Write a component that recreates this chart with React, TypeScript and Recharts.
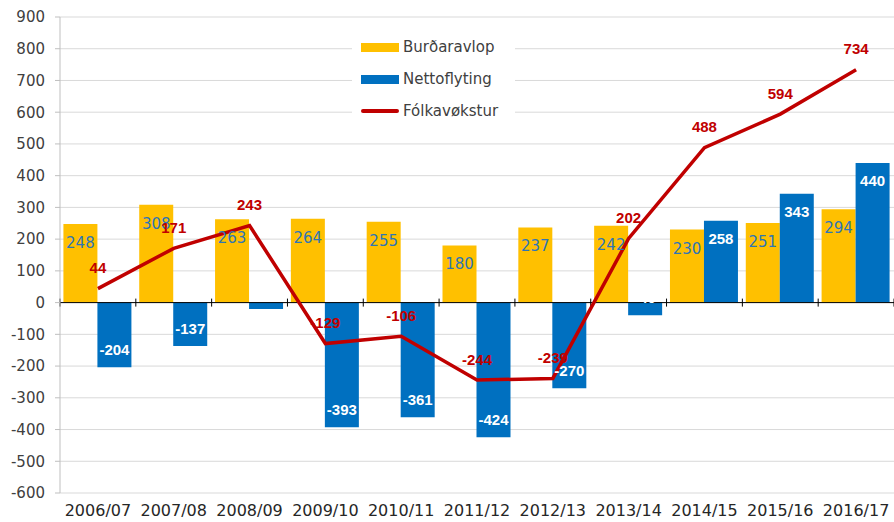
import React from 'react';
import { ComposedChart, Bar, Line, XAxis, YAxis, CartesianGrid, ReferenceLine, LabelList, Legend } from 'recharts';

const categories = ['2006/07', '2007/08', '2008/09', '2009/10', '2010/11', '2011/12', '2012/13', '2013/14', '2014/15', '2015/16', '2016/17'];
const burdaravlop = [248, 308, 263, 264, 255, 180, 237, 242, 230, 251, 294];
const nettoflyting = [-204, -137, -20, -393, -361, -424, -270, -40, 258, 343, 440];
const folkavokstur = [44, 171, 243, -129, -106, -244, -239, 202, 488, 594, 734];
const yTicks = [-600, -500, -400, -300, -200, -100, 0, 100, 200, 300, 400, 500, 600, 700, 800, 900];

const data = categories.map((c, i) => ({
  cat: c,
  burd: burdaravlop[i],
  netto: nettoflyting[i],
  folk: folkavokstur[i],
}));

const YELLOW = '#ffc000';
const BLUE = '#0070c0';
const RED = '#c00000';

const YellowLabel = (props: any) => {
  const { x, y, width, height, value } = props;
  const top = Math.min(y, y + height);
  return (
    <text x={x + width / 2} y={top + 19} textAnchor="middle" dominantBaseline="central"
      fontFamily="DejaVu Sans" fontSize={15} fill="#2e75b6">{value}</text>
  );
};

const BlueLabel = (props: any) => {
  const { x, y, width, height, value } = props;
  const top = Math.min(y, y + height);
  const bottom = Math.max(y, y + height);
  const cy = value >= 0 ? top + 18 : bottom - 18;
  return (
    <text x={x + width / 2} y={cy} textAnchor="middle" dominantBaseline="central"
      fontFamily="Liberation Sans" fontWeight="bold" fontSize={15} fill="#ffffff">{value}</text>
  );
};

const RedLabel = (props: any) => {
  const { x, y, value } = props;
  return (
    <text x={x} y={y - 21} textAnchor="middle" dominantBaseline="central"
      fontFamily="Liberation Sans" fontWeight="bold" fontSize={15} fill={RED}>{value}</text>
  );
};

const ZeroAxis = (props: any) => {
  const { x1, y1, x2 } = props;
  const n = categories.length;
  const step = (x2 - x1) / n;
  const ticks = [];
  for (let i = 0; i <= n; i++) {
    const tx = x1 + i * step;
    ticks.push(<line key={i} x1={tx} x2={tx} y1={y1 - 4} y2={y1 + 4} stroke="#000" strokeWidth={1} />);
  }
  return (
    <g>
      <line x1={x1} x2={x2} y1={y1} y2={y1} stroke="#000" strokeWidth={1} />
      {ticks}
    </g>
  );
};

const legendItems = [
  { name: 'Burðaravlop', color: YELLOW, type: 'rect' },
  { name: 'Nettoflyting', color: BLUE, type: 'rect' },
  { name: 'Fólkavøkstur', color: RED, type: 'line' },
];

const LegendContent = () => (
  <div style={{ background: '#fff', width: 163, height: 96, fontFamily: 'DejaVu Sans', fontSize: 15, color: '#404040' }}>
    {legendItems.map((it) => (
      <div key={it.name} style={{ height: 32, display: 'flex', alignItems: 'center' }}>
        <div style={{ width: 9 }} />
        {it.type === 'rect' ? (
          <div style={{ width: 38, height: 9, background: it.color }} />
        ) : (
          <div style={{ width: 38, height: 4, background: it.color, borderRadius: 2 }} />
        )}
        <div style={{ width: 4 }} />
        <span style={{ whiteSpace: 'nowrap' }}>{it.name}</span>
      </div>
    ))}
  </div>
);

export default function App() {
  return (
    <div style={{ position: 'absolute', left: 0, top: 0, width: 894, height: 522, background: '#fff' }}>
      <ComposedChart width={894} height={522} data={data}
        margin={{ top: 17, right: 0, bottom: 0, left: 0 }}
        barCategoryGap="4.5%" barGap={0}>
        <CartesianGrid horizontal vertical={false} stroke="#d9d9d9" strokeWidth={1} />
        <XAxis dataKey="cat" height={29} axisLine={false} tickLine={false} tickMargin={6}
          interval={0}
          tick={{ fontFamily: 'DejaVu Sans', fontSize: 16, fill: '#262626' }} />
        <YAxis width={60} domain={[-600, 900]} ticks={yTicks} interval={0}
          axisLine={{ stroke: '#bfbfbf' }} tickLine={{ stroke: '#bfbfbf' }} tickSize={5} tickMargin={10}
          tick={{ fontFamily: 'DejaVu Sans', fontSize: 15, fill: '#404040' }} />
        <Legend content={<LegendContent />} layout="horizontal" verticalAlign="middle" align="center"
          wrapperStyle={{ position: 'absolute', left: 352, top: 31, width: 163, height: 96 }} />
        <Bar dataKey="burd" fill={YELLOW} isAnimationActive={false}>
          <LabelList dataKey="burd" content={<YellowLabel />} />
        </Bar>
        <Bar dataKey="netto" fill={BLUE} isAnimationActive={false}>
          <LabelList dataKey="netto" content={<BlueLabel />} />
        </Bar>
        <ReferenceLine y={0} shape={(p: any) => <ZeroAxis {...p} />} />
        <Line dataKey="folk" type="linear" stroke={RED} strokeWidth={3.5} dot={false} isAnimationActive={false}>
          <LabelList dataKey="folk" content={<RedLabel />} />
        </Line>
      </ComposedChart>
    </div>
  );
}
